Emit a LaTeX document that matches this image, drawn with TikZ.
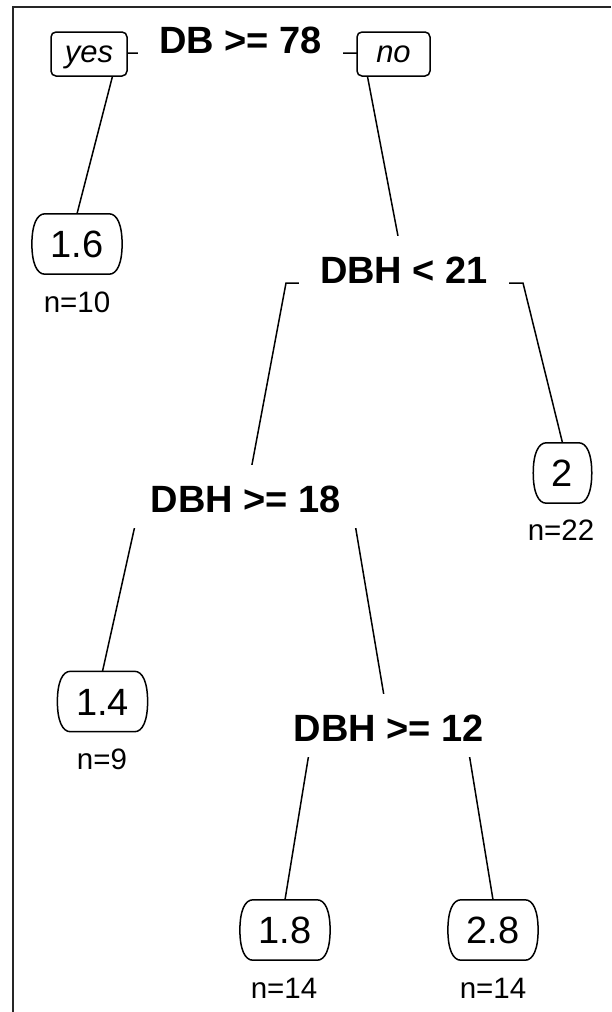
\documentclass[tikz,border=0pt]{standalone}
\usepackage{fontspec}
\setmainfont{Liberation Sans}
\usetikzlibrary{calc,backgrounds}
\newcommand\leafoutline[1]{%
  \draw[outline] ($(#1.north west)+(13,0)$) -- ($(#1.north east)+(-13,0)$)
    .. controls ($(#1.north east)+(-5,0)$) and ($(#1.north east)+(0,11)$) .. (#1.east)
    .. controls ($(#1.south east)+(0,-11)$) and ($(#1.south east)+(-5,0)$) .. ($(#1.south east)+(-13,0)$)
    -- ($(#1.south west)+(13,0)$)
    .. controls ($(#1.south west)+(5,0)$) and ($(#1.south west)+(0,-11)$) .. (#1.west)
    .. controls ($(#1.north west)+(0,11)$) and ($(#1.north west)+(5,0)$) .. ($(#1.north west)+(13,0)$) -- cycle;}
\begin{document}
\begin{tikzpicture}[x=1pt,y=-1pt,
  split/.style={font=\fontsize{38}{40}\selectfont\bfseries, fill=white, inner xsep=21pt, inner ysep=0pt, text height=47pt, text depth=16pt, anchor=base},
  leaf/.style={font=\fontsize{38}{40}\selectfont, inner xsep=18.5pt, inner ysep=0pt, text height=27pt, text depth=0pt, minimum height=60pt},
  nlab/.style={font=\fontsize{29.5}{32}\selectfont, inner sep=0pt, text height=21pt, text depth=0pt},
  yn/.style={draw, line width=1.5pt, rounded corners=5pt, fill=white, font=\fontsize{31}{33}\selectfont\itshape, inner sep=0pt, minimum height=44pt, text height=16pt, text depth=0pt},
  branch/.style={line width=1.5pt},
  outline/.style={line width=1.5pt},
  frame/.style={line width=1.2pt, black!85}]
\useasboundingbox (0,0) rectangle (611,1012);
% split labels
\node[split] (s1) at (240.5,53) {DB >= 78};
\node[split] (s2) at (404,283) {DBH < 21};
\node[split] (s3) at (246,512) {DBH >= 18};
\node[split] (s4) at (389,741) {DBH >= 12};
% yes / no
\node[yn, minimum width=76pt] (yes) at (89,54) {yes};
\node[yn, minimum width=73pt] (no) at (393.5,54) {no};
% leaves
\node[leaf] (l1) at (77,244) {1.6};
\node[leaf] (l2) at (562.5,473) {2};
\node[leaf] (l3) at (102.5,701.5) {1.4};
\node[leaf] (l4) at (285,930) {1.8};
\node[leaf] (l5) at (493,930) {2.8};
\leafoutline{l1}
\leafoutline{l2}
\leafoutline{l3}
\leafoutline{l4}
\leafoutline{l5}
% counts
\node[nlab] (n1) at (77,302) {n=10};
\node[nlab] (n2) at (561,530) {n=22};
\node[nlab] (n3) at (102,759) {n=9};
\node[nlab] (n4) at (284,988) {n=14};
\node[nlab] (n5) at (493,988) {n=14};
% bend points
\coordinate (b1l) at (118.5,53);
\coordinate (b1r) at (363,53);
\coordinate (b2l) at (286,283);
\coordinate (b2r) at (523,283);
\coordinate (b3l) at (138,512);
\coordinate (b3r) at (353,512);
\coordinate (b4l) at (311,741);
\coordinate (b4r) at (467,741);
\begin{scope}[on background layer]
\draw[branch] (s1.base) -- (b1l) -- (l1.north);
\draw[branch] (s1.base) -- (b1r) -- (s2.center);
\draw[branch] (s2.base) -- (b2l) -- (s3.center);
\draw[branch] (s2.base) -- (b2r) -- (l2.north);
\draw[branch] (s3.base) -- (b3l) -- (l3.north);
\draw[branch] (s3.base) -- (b3r) -- (s4.center);
\draw[branch] (s4.base) -- (b4l) -- (l4.north);
\draw[branch] (s4.base) -- (b4r) -- (l5.north);
\end{scope}
% frame
\draw[frame] (13,1012) -- (13,7) -- (611,7);
\end{tikzpicture}
\end{document}
